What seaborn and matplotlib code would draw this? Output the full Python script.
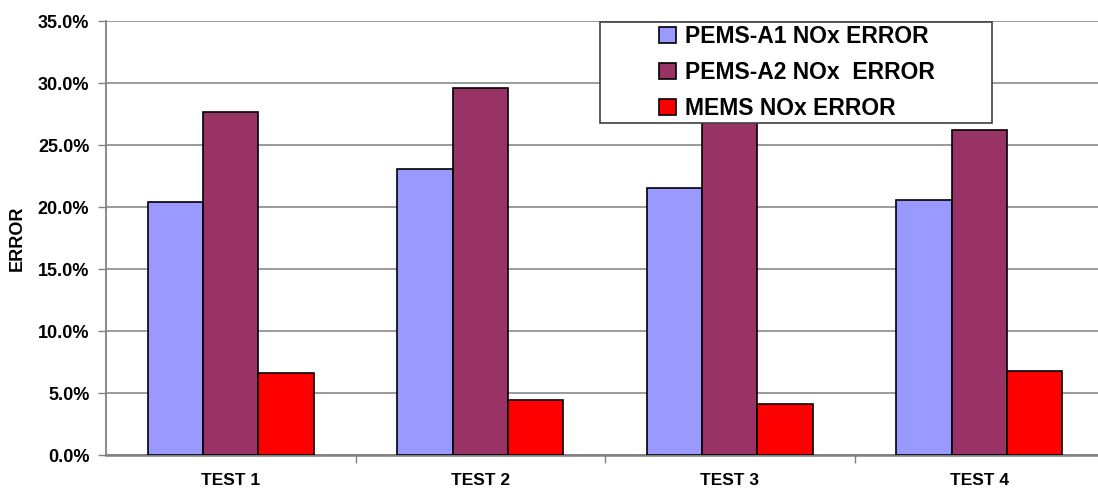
import matplotlib
matplotlib.use("Agg")
import matplotlib.pyplot as plt
import matplotlib.patches as mpatches
from matplotlib.ticker import FuncFormatter, FixedLocator
import seaborn as sns
import pandas as pd

# Data
tests = ["TEST 1", "TEST 2", "TEST 3", "TEST 4"]
series = ["PEMS-A1 NOx ERROR", "PEMS-A2 NOx  ERROR", "MEMS NOx ERROR"]
pems_a1 = [20.4, 23.1, 21.5, 20.6]
pems_a2 = [27.7, 29.6, 28.0, 26.2]
mems = [6.6, 4.4, 4.1, 6.8]
colors = ["#9999FF", "#993366", "#FF0000"]

df = pd.DataFrame({
    "test": tests * 3,
    "series": [series[0]] * 4 + [series[1]] * 4 + [series[2]] * 4,
    "error": pems_a1 + pems_a2 + mems,
})

sns.set_theme(style="white")
plt.rcParams["font.family"] = ["Liberation Sans", "DejaVu Sans"]
plt.rcParams["font.weight"] = "bold"
plt.rcParams["text.color"] = "black"
plt.rcParams["xtick.color"] = "black"
plt.rcParams["ytick.color"] = "black"
plt.rcParams["axes.labelcolor"] = "black"

fig = plt.figure(figsize=(10.98, 4.90), dpi=100)
W, H = 1098, 490
ax = fig.add_axes([106 / W, 1 - 455 / H, 998 / W, 434 / H])

sns.barplot(data=df, x="test", y="error", hue="series", hue_order=series,
            palette=colors, width=0.667, gap=0, edgecolor="black",
            linewidth=1.2, saturation=1, ax=ax, legend=True, zorder=3)

ax.set_ylim(0, 35)
ax.set_xlim(-0.5, 3.5)
ax.set_yticks([0, 5, 10, 15, 20, 25, 30, 35])
ax.yaxis.set_major_formatter(FuncFormatter(lambda v, p: f"{v:.1f}%"))
ax.grid(axis="y", color="#808080", linewidth=1.1, zorder=0)
ax.grid(axis="x", visible=False)
ax.set_axisbelow(True)

for s in ["top", "right"]:
    ax.spines[s].set_visible(False)
ax.spines["left"].set_color("#808080")
ax.spines["bottom"].set_color("#808080")
ax.spines["left"].set_linewidth(1.3)
ax.spines["bottom"].set_linewidth(1.8)

ax.tick_params(axis="y", which="major", direction="out", length=6, width=1,
               color="#808080", labelcolor="black", left=True, pad=6,
               labelsize=13)
ax.tick_params(axis="x", which="major", length=0, pad=13, labelsize=12.5,
               labelcolor="black")
ax.xaxis.set_minor_locator(FixedLocator([0.5, 1.5, 2.5]))
ax.tick_params(axis="x", which="minor", direction="out", length=6, width=1,
               color="#808080", bottom=True)
for lbl in ax.get_xticklabels() + ax.get_yticklabels():
    lbl.set_fontweight("bold")

ax.set_xlabel("")
ax.set_ylabel("ERROR", fontsize=13, fontweight="bold", labelpad=9,
              color="black")

# Legend box
handles, labels = ax.get_legend_handles_labels()
ax.get_legend().remove()
box = mpatches.Rectangle((600 / W, 1 - 123 / H), 392 / W, 101 / H,
                         transform=fig.transFigure, facecolor="white",
                         edgecolor="#404040", linewidth=1.2, zorder=10)
fig.patches.append(box)
leg = fig.legend(handles, labels, loc="center", bbox_to_anchor=(797 / W, 1 - 72.5 / H),
                 frameon=False, prop={"weight": "bold", "size": 16.5},
                 handlelength=0.7, handleheight=0.7, handletextpad=0.4,
                 labelspacing=0.58, borderpad=0)
for t in leg.get_texts():
    t.set_color("black")
leg.set_zorder(11)

fig.savefig("out.png", dpi=100)
